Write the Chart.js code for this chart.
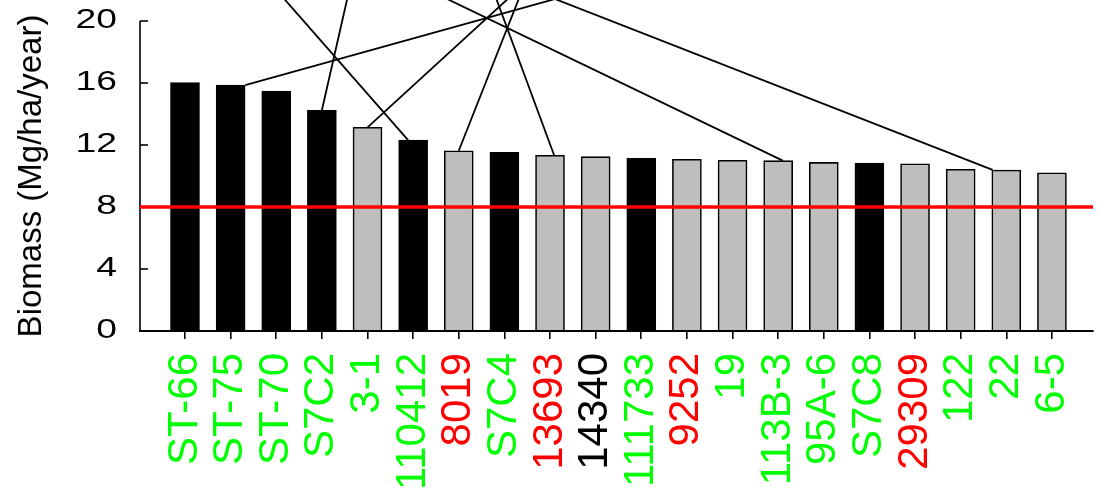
<!DOCTYPE html>
<html>
<head>
<meta charset="utf-8">
<script src="https://cdn.jsdelivr.net/npm/chart.js@4/dist/chart.umd.min.js"></script>
<style>
  html, body { margin: 0; padding: 0; background: #ffffff; }
  #wrap { width: 1099px; height: 490px; overflow: hidden; }
  canvas { display: block; }
</style>
</head>
<body>
<div id="wrap"><canvas id="c" width="1099" height="490"></canvas></div>
<script>
// Genotypes, sorted by biomass yield
const categories = ['ST-66', 'ST-75', 'ST-70', 'S7C2', '3-1', '110412', '8019', 'S7C4', '13693', '14340',
                    '111733', '9252', '19', '113B-3', '95A-6', 'S7C8', '29309', '122', '22', '6-5'];
// Biomass (Mg/ha/year)
const biomass = [16.02, 15.87, 15.48, 14.24, 13.14, 12.32, 11.63, 11.53, 11.34, 11.25,
                 11.14, 11.08, 11.01, 10.99, 10.88, 10.84, 10.79, 10.43, 10.39, 10.21];
// 1 = selected genotype (dark bar), 0 = other
const selected = [1, 1, 1, 1, 0, 1, 0, 1, 0, 0, 1, 0, 0, 0, 0, 1, 0, 0, 0, 0];
// Label group per genotype: 'A', 'B' or 'C'
const labelGroup = ['A', 'A', 'A', 'A', 'A', 'A', 'B', 'A', 'B', 'C',
                    'A', 'B', 'A', 'A', 'A', 'A', 'B', 'A', 'A', 'A'];
// Y axis ticks and threshold
const yTicks = [0, 4, 8, 12, 16, 20];
const threshold = 8;
// Leader lines: bar index, offset along the bar top (in bar units), and the far end (x index, y value)
const leaderBar  = [1, 3, 5, 4, 6, 8, 13, 18];
const leaderSide = [0.32, 0, -0.11, 0, 0, 0.09, 0.1, -0.3];
const leaderTopX = [8.11, 3.65, 1.81, 7.53, 7.48, 6.67, 4.88, 8.11];
const leaderTopY = [21.42, 22.65, 22.65, 22.65, 22.65, 22.65, 22.65, 21.42];

// ---- styling ----
const groupColor = { A: '#00ff00', B: '#ff0000', C: '#000000' };
const barFill = v => v ? '#000000' : '#bebebe';
const FONT = 'Liberation Sans, Arial, sans-serif';

// Linear scale whose tick labels are drawn horizontally widened
class WideTickScale extends Chart.LinearScale {
  drawLabels(chartArea) {
    const ctx = this.ctx;
    const ax = this.right - this.options.ticks.padding;
    ctx.save();
    ctx.translate(ax, 0);
    ctx.scale(1.38, 1);
    ctx.translate(-ax, 0);
    super.drawLabels(chartArea);
    ctx.restore();
  }
}
WideTickScale.id = 'wideLinear';
WideTickScale.defaults = {};
Chart.register(WideTickScale);

const overlay = {
  id: 'overlay',
  afterDraw(chart) {
    const { ctx, chartArea } = chart;
    const xs = chart.scales.x, ys = chart.scales.y;
    ctx.save();
    ctx.lineCap = 'butt';
    // y axis line and inward ticks
    ctx.strokeStyle = '#000';
    ctx.lineWidth = 1.6;
    ctx.beginPath();
    ctx.moveTo(chartArea.left, ys.getPixelForValue(yTicks[yTicks.length - 1]));
    ctx.lineTo(chartArea.left, ys.getPixelForValue(yTicks[0]));
    ctx.stroke();
    yTicks.forEach(t => {
      const y = ys.getPixelForValue(t);
      ctx.beginPath();
      ctx.moveTo(chartArea.left, y);
      ctx.lineTo(chartArea.left + 8, y);
      ctx.stroke();
    });
    // threshold line
    const yt = ys.getPixelForValue(threshold);
    ctx.strokeStyle = '#ff0000';
    ctx.lineWidth = 3.5;
    ctx.beginPath();
    ctx.moveTo(chartArea.left, yt);
    ctx.lineTo(chartArea.right, yt);
    ctx.stroke();
    // leader lines
    ctx.strokeStyle = '#000';
    ctx.lineWidth = 1.8;
    leaderBar.forEach((b, i) => {
      const x1 = xs.getPixelForValue(b + leaderSide[i]);
      const y1 = ys.getPixelForValue(biomass[b]);
      const x2 = xs.getPixelForValue(leaderTopX[i]);
      const y2 = ys.getPixelForValue(leaderTopY[i]);
      ctx.beginPath();
      ctx.moveTo(x1, y1);
      ctx.lineTo(x2, y2);
      ctx.stroke();
    });
    ctx.restore();
  }
};

new Chart(document.getElementById('c'), {
  type: 'bar',
  data: {
    datasets: [{
      data: biomass.map((v, i) => ({ x: i, y: v })),
      backgroundColor: selected.map(barFill),
      borderColor: '#000000',
      borderWidth: 1.6,
      barThickness: 29
    }]
  },
  options: {
    responsive: false,
    animation: false,
    devicePixelRatio: 1,
    layout: { padding: { top: 21, right: 6, left: 0, bottom: 0 } },
    plugins: { legend: { display: false }, tooltip: { enabled: false } },
    scales: {
      x: {
        type: 'linear',
        offset: false,
        min: -0.986,
        max: 19.9,
        afterBuildTicks: s => { s.ticks = categories.map((c, i) => ({ value: i })); },
        afterFit: s => { s.height = 159; s.paddingLeft = 0; s.paddingRight = 0; },
        grid: { display: true, offset: false, drawOnChartArea: false, drawTicks: true, tickLength: 8, color: '#000', lineWidth: 1.6 },
        border: { display: true, color: '#000', width: 2, z: 1 },
        ticks: {
          autoSkip: false,
          minRotation: 90,
          maxRotation: 90,
          padding: 14,
          font: { family: FONT, size: 42 },
          color: c => groupColor[labelGroup[c.index]],
          callback: (v) => categories[Math.round(v)]
        }
      },
      y: {
        type: 'wideLinear',
        min: 0,
        max: 20,
        afterBuildTicks: s => { s.ticks = yTicks.map(v => ({ value: v })); },
        afterFit: s => { s.width = 140; s.paddingTop = 0; s.paddingBottom = 0; },
        grid: { display: false, drawTicks: false },
        border: { display: false },
        ticks: {
          padding: 23,
          color: '#000',
          font: { family: FONT, size: 27 }
        },
        title: {
          display: true,
          text: 'Biomass (Mg/ha/year)',
          color: '#000',
          font: { family: FONT, size: 33 },
          padding: { top: 12, bottom: 0 }
        }
      }
    }
  },
  plugins: [overlay]
});
</script>
</body>
</html>
